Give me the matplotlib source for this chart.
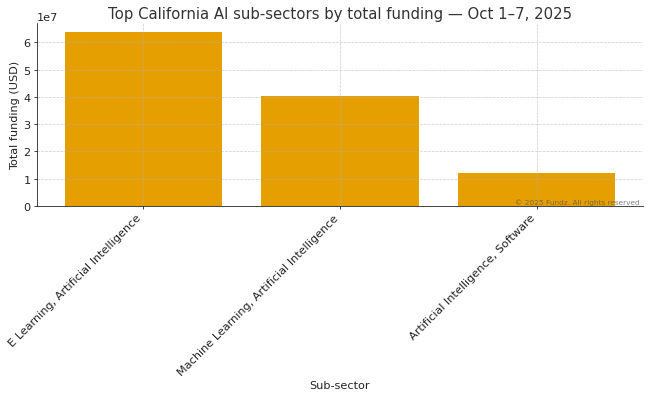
import matplotlib
matplotlib.use("Agg")
import matplotlib.pyplot as plt

categories = ["E Learning, Artificial Intelligence",
              "Machine Learning, Artificial Intelligence",
              "Artificial Intelligence, Software"]
funding = [6.38e7, 4.04e7, 1.2e7]

fig = plt.figure(figsize=(10, 6.092), dpi=65)
ax = fig.add_axes([0.057, 0.477, 0.932, 0.462])
ax.bar(categories, funding, color="#E69F00", width=0.8)
ax.grid(True, linestyle="--", color="#b0b0b0", linewidth=0.8, alpha=0.6)
for s in ["top", "right"]:
    ax.spines[s].set_visible(False)
ax.set_title("Top California AI sub-sectors by total funding — Oct 1–7, 2025",
             fontsize=16.5, color="#333333")
ax.set_ylabel("Total funding (USD)", fontsize=12.5, color="#222222")
ax.set_xlabel("Sub-sector", fontsize=12.5, color="#222222")
plt.setp(ax.get_xticklabels(), rotation=45, ha="right", fontsize=12.5, color="#222222")
ax.tick_params(axis="y", labelsize=12.5, labelcolor="#222222")
ax.yaxis.get_offset_text().set_fontsize(12.5)
ax.text(0.995, 0.008, "© 2025 Fundz. All rights reserved", transform=ax.transAxes,
        ha="right", va="bottom", fontsize=8.2, color="#555555", alpha=0.75)
fig.savefig("out.png", dpi=65)
